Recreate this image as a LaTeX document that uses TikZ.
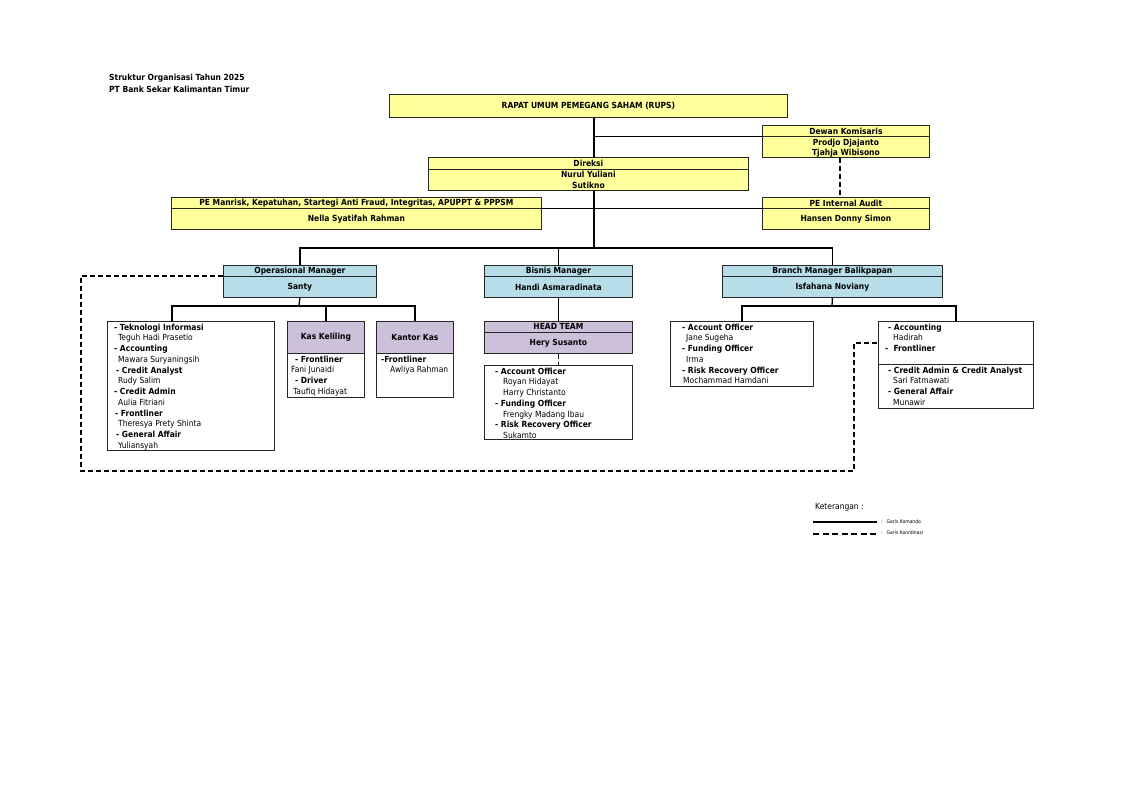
\documentclass[tikz,border=0pt]{standalone}
\usepackage{fontspec}
\setmainfont{DejaVu Sans Condensed}
\usepackage{tikz}

\definecolor{cellyellow}{HTML}{FFFF9C}
\definecolor{cellblue}{HTML}{B7DEE8}
\definecolor{cellpurple}{HTML}{CCC0DA}

\newcommand{\orgfont}{\fontsize{8.4}{10.75}\selectfont}
\newcommand{\orgbold}{\fontsize{8.4}{10.6}\selectfont\bfseries}

\tikzset{
	cell/.style={draw=black!85, line width=0.8pt, anchor=north west, inner sep=0pt, align=center, font=\orgbold},
	yellowcell/.style={cell, fill=cellyellow},
	bluecell/.style={cell, fill=cellblue},
	purplecell/.style={cell, fill=cellpurple},
	listcell/.style={cell, fill=white},
	celltext/.style={inner sep=0pt, align=center, font=\orgbold},
	listtext/.style={anchor=north west, inner sep=0pt, align=left, font=\orgfont},
	command/.style={line width=1.3pt},
	coordline/.style={line width=1.3pt, dash pattern=on 5pt off 3pt},
}

\begin{document}
\begin{tikzpicture}[x=1pt, y=-1pt]
	\useasboundingbox (0,0) rectangle (1122,794);
	\fill[white] (0,0) rectangle (1122,794);

	% title
	\node[anchor=north west, inner sep=0pt, align=left, font=\fontsize{8.4}{12}\selectfont\bfseries] (title) at (109,73.5)
		{Struktur Organisasi Tahun 2025\\PT Bank Sekar Kalimantan Timur};

	% top level
	\node[yellowcell, minimum width=398pt, minimum height=23pt] (rups) at (389,94) {RAPAT UMUM PEMEGANG SAHAM (RUPS)};
	\node[yellowcell, minimum width=167pt, minimum height=11pt] (dk)   at (762,125) {Dewan Komisaris};
	\node[yellowcell, minimum width=167pt, minimum height=21pt] (dkb)  at (762,136) {};
	\node[celltext, font=\fontsize{8.4}{10.2}\selectfont\bfseries] (dkbtext) at ([yshift=-1.3pt]dkb.center) {Prodjo Djajanto\\Tjahja Wibisono};
	\node[yellowcell, minimum width=320pt, minimum height=12pt] (dir)  at (428,157) {Direksi};
	\node[yellowcell, minimum width=320pt, minimum height=21pt] (dirb) at (428,169) {Nurul Yuliani\\Sutikno};
	\node[yellowcell, minimum width=370pt, minimum height=11pt] (pem)  at (171,197) {PE Manrisk, Kepatuhan, Startegi Anti Fraud, Integritas, APUPPT \& PPPSM};
	\node[yellowcell, minimum width=370pt, minimum height=21pt] (pemb) at (171,208) {Nella Syatifah Rahman};
	\node[yellowcell, minimum width=167pt, minimum height=11pt] (pia)  at (762,197) {PE Internal Audit};
	\node[yellowcell, minimum width=167pt, minimum height=21pt] (piab) at (762,208) {Hansen Donny Simon};

	% managers
	\node[bluecell, minimum width=153pt, minimum height=11pt] (om)   at (223,265) {Operasional Manager};
	\node[bluecell, minimum width=153pt, minimum height=21pt] (omb)  at (223,276) {Santy};
	\node[bluecell, minimum width=148pt, minimum height=11pt] (bm)   at (484,265) {Bisnis Manager};
	\node[bluecell, minimum width=148pt, minimum height=21pt] (bmb)  at (484,276) {Handi Asmaradinata};
	\node[bluecell, minimum width=220pt, minimum height=11pt] (brm)  at (722,265) {Branch Manager Balikpapan};
	\node[bluecell, minimum width=220pt, minimum height=21pt] (brmb) at (722,276) {Isfahana Noviany};

	% operasional
	\node[listcell, minimum width=167pt, minimum height=129pt] (opsl) at (107,321) {};
	\node[listtext] (opsltext) at (114,323.5) {%
		\textbf{- Teknologi Informasi}\\
		\hspace*{4pt}Teguh Hadi Prasetio\\
		\textbf{- Accounting}\\
		\hspace*{4pt}Mawara Suryaningsih\\
		\hspace*{2pt}\textbf{- Credit Analyst}\\
		\hspace*{4pt}Rudy Salim\\
		\textbf{- Credit Admin}\\
		\hspace*{4pt}Aulia Fitriani\\
		\hspace*{1pt}\textbf{- Frontliner}\\
		\hspace*{4pt}Theresya Prety Shinta\\
		\hspace*{2pt}\textbf{- General Affair}\\
		\hspace*{4pt}Yuliansyah};
	\node[purplecell, minimum width=77pt, minimum height=32pt] (kk)   at (287,321) {Kas Keliling};
	\node[listcell,   minimum width=77pt, minimum height=44pt] (kkb)  at (287,353) {};
	\node[listtext] (kkbtext) at (291,355.5) {%
		\hspace*{4pt}\textbf{- Frontliner}\\
		Fani Junaidi\\
		\hspace*{4pt}\textbf{- Driver}\\
		\hspace*{2pt}Taufiq Hidayat};
	\node[purplecell, minimum width=77pt, minimum height=32pt] (kka)  at (376,321) {Kantor Kas};
	\node[listcell,   minimum width=77pt, minimum height=44pt] (kkab) at (376,353) {};
	\node[listtext] (kkabtext) at (381,355.5) {%
		\textbf{-Frontliner}\\
		\hspace*{9pt}Awliya Rahman};

	% bisnis
	\node[purplecell, minimum width=148pt, minimum height=11pt] (ht)  at (484,321) {HEAD TEAM};
	\node[purplecell, minimum width=148pt, minimum height=21pt] (htb) at (484,332) {Hery Susanto};
	\node[listcell, minimum width=148pt, minimum height=74pt] (bml) at (484,365) {};
	\node[listtext] (bmltext) at (495,367.5) {%
		\textbf{- Account Officer}\\
		\hspace*{8pt}Royan Hidayat\\
		\hspace*{8pt}Harry Christanto\\
		\textbf{- Funding Officer}\\
		\hspace*{8pt}Frengky Madang Ibau\\
		\textbf{- Risk Recovery Officer}\\
		\hspace*{8pt}Sukamto};

	% branch
	\node[listcell, minimum width=143pt, minimum height=65pt] (brl1) at (670,321) {};
	\node[listtext] (brl1text) at (682,323.5) {%
		\textbf{- Account Officer}\\
		\hspace*{4pt}Jane Sugeha\\
		\textbf{- Funding Officer}\\
		\hspace*{4pt}Irma\\
		\textbf{- Risk Recovery Officer}\\
		\hspace*{1pt}Mochammad Hamdani};
	\node[listcell, minimum width=155pt, minimum height=43pt] (brl2) at (878,321) {};
	\node[listtext] (brl2text) at (885,323.5) {%
		\hspace*{3pt}\textbf{- Accounting}\\
		\hspace*{8pt}Hadirah\\
		\textbf{- \ Frontliner}};
	\node[listcell, minimum width=155pt, minimum height=44pt] (brl3) at (878,364) {};
	\node[listtext] (brl3text) at (888,366.5) {%
		\textbf{- Credit Admin \& Credit Analyst}\\
		\hspace*{5pt}Sari Fatmawati\\
		\textbf{- General Affair}\\
		\hspace*{5pt}Munawir};

	% garis komando
	\coordinate (spine) at (594,0);
	\coordinate (bar) at (594,248);
	\coordinate (opsfork) at (299,306);
	\coordinate (brfork) at (832,306);
	\draw[command] (rups.south -| spine) -- (dir.north -| spine);
	\draw[command] (dk.south west) -- (dk.south west -| spine);
	\draw[command] (dirb.south -| spine) -- (bar);
	\draw[command] (pem.south east) -- (pia.south west);
	\draw[command] (om.north) |- (bar);
	\draw[command] (brm.north) |- (bar);
	\draw[command] (bm.north) -- (bm.north |- bar);
	\draw[command] (omb.south) -- (opsfork);
	\draw[command] (opsl.north -| 172,0) |- (opsfork);
	\draw[command] (kk.north) |- (opsfork);
	\draw[command] (kka.north) |- (opsfork);
	\draw[command] (bmb.south) -- (ht.north);
	\draw[command] (brmb.south) -- (brfork);
	\draw[command] (brl1.north) |- (brfork);
	\draw[command] (brl2.north) |- (brfork);

	% garis koordinasi
	\coordinate (loopsw) at (81,471);
	\coordinate (loopne) at (854,343);
	\draw[coordline] (dkb.south -| 840,0) -- (pia.north -| 840,0);
	\draw[coordline] (htb.south) -- (bml.north);
	\draw[coordline] (omb.north west) -| (loopsw) -| (loopne) -- (loopne -| brl2.west);

	% keterangan
	\node[anchor=west, inner sep=0pt, font=\orgfont] (legend) at (815,507) {Keterangan :};
	\coordinate (lgA) at (813,522);
	\coordinate (lgB) at (877,522);
	\coordinate (lgC) at (813,534);
	\coordinate (lgD) at (877,534);
	\draw[command] (lgA) -- (lgB);
	\draw[coordline, dash pattern=on 6pt off 3.5pt] (lgC) -- (lgD);
	\node[anchor=west, inner sep=0pt, font=\fontsize{5}{6}\selectfont] (lgkom) at (881,522) {:\hspace{4pt}Garis Komando};
	\node[anchor=west, inner sep=0pt, font=\fontsize{5}{6}\selectfont] (lgkoo) at (881,533) {:\hspace{4pt}Garis Koordinasi};
\end{tikzpicture}
\end{document}
